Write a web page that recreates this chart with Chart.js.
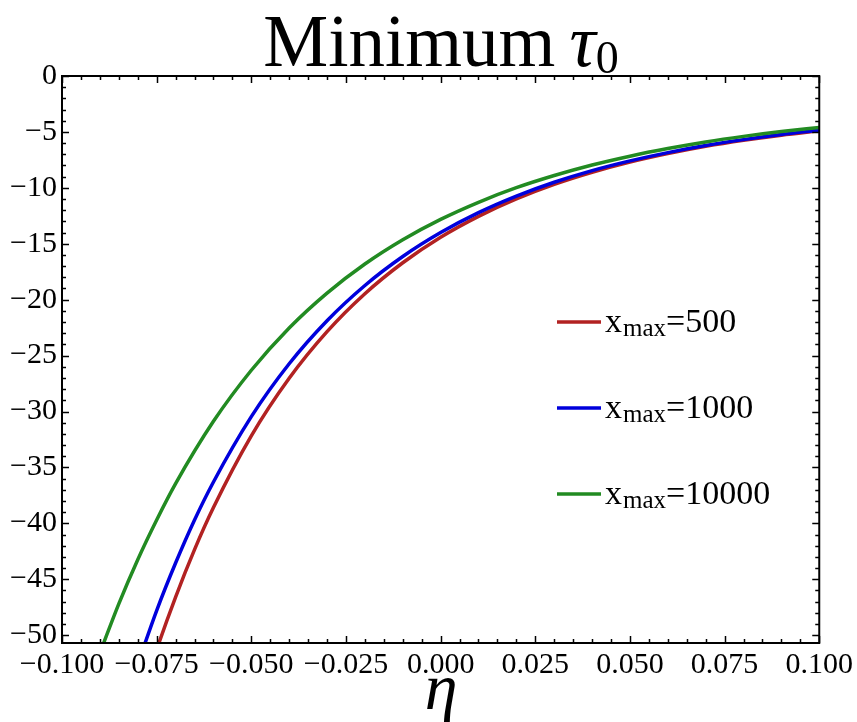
<!DOCTYPE html>
<html>
<head>
<meta charset="utf-8">
<script src="https://cdn.jsdelivr.net/npm/chart.js@4"></script>
<style>
  body { margin: 0; background: #fff; }
  #wrap { width: 857px; height: 722px; }
</style>
</head>
<body>
<div id="wrap"><canvas id="chart"></canvas></div>
<script>
// values
const labels = ['500', '1000', '10000'];
const colors = ['rgb(178,34,34)', 'rgb(0,0,220)', 'rgb(34,139,34)'];

const etaRed = [-0.08, -0.075, -0.07, -0.065, -0.06, -0.05, -0.04, -0.03, -0.02, -0.01, 0, 0.01, 0.02, 0.03, 0.04, 0.05, 0.06, 0.07, 0.08, 0.09, 0.1];
const tauRed = [-56.6, -51.3, -46.59, -42.35, -38.59, -32.18, -27.03, -22.86, -19.47, -16.70, -14.42, -12.55, -10.99, -9.69, -8.61, -7.70, -6.94, -6.29, -5.75, -5.29, -4.90];

const etaBlue = [-0.08, -0.075, -0.07, -0.065, -0.06, -0.05, -0.04, -0.03, -0.02, -0.01, 0, 0.01, 0.02, 0.03, 0.04, 0.05, 0.06, 0.07, 0.08, 0.09, 0.1];
const tauBlue = [-52.59, -47.8, -43.55, -39.7, -36.30, -30.46, -25.73, -21.88, -18.73, -16.14, -14.00, -12.22, -10.74, -9.50, -8.46, -7.59, -6.85, -6.22, -5.69, -5.23, -4.85];

const etaGreen = [-0.09, -0.085, -0.08, -0.075, -0.07, -0.06, -0.05, -0.04, -0.03, -0.02, -0.01, 0, 0.01, 0.02, 0.03, 0.04, 0.05, 0.06, 0.07, 0.08, 0.09, 0.1];
const tauGreen = [-51.6, -47.2, -43.25, -39.7, -36.45, -30.88, -26.31, -22.53, -19.41, -16.81, -14.64, -12.82, -11.29, -9.99, -8.90, -7.96, -7.17, -6.49, -5.90, -5.40, -4.97, -4.60];

const xTicks = [-0.1, 0.1, 0.025, 0.005];   // min, max, major step, minor step
const yTicks = [-50.7, 0, 5, 1];

const serif = '"Liberation Serif", "Times New Roman", serif';

function pts(xs, ys) {
    return xs.map((x, i) => ({ x: x, y: ys[i] }));
}

function minus(s) {
    return s.replace('-', '\u2212');
}

// frame, inward ticks, title, axis label and legend
const decor = {
    id: 'decor',
    afterDatasetsDraw(chart) {
        const ctx = chart.ctx;
        const a = chart.chartArea;
        const xs = chart.scales.x;
        const ys = chart.scales.y;
        ctx.save();
        ctx.strokeStyle = '#000';
        ctx.lineWidth = 1.5;

        // x ticks top and bottom
        const nx = Math.round((xTicks[1] - xTicks[0]) / xTicks[3]);
        for (let i = 0; i <= nx; i++) {
            const v = xTicks[0] + i * xTicks[3];
            const px = Math.round(xs.getPixelForValue(v)) + 0.5;
            const len = i % 5 === 0 ? 7 : 4;
            ctx.beginPath();
            ctx.moveTo(px, a.bottom); ctx.lineTo(px, a.bottom - len);
            ctx.moveTo(px, a.top); ctx.lineTo(px, a.top + len);
            ctx.stroke();
        }
        // y ticks left and right
        for (let v = 0; v >= yTicks[0]; v -= yTicks[3]) {
            const py = Math.round(ys.getPixelForValue(v)) + 0.5;
            const len = v % 5 === 0 ? 7 : 4;
            ctx.beginPath();
            ctx.moveTo(a.left, py); ctx.lineTo(a.left + len, py);
            ctx.moveTo(a.right, py); ctx.lineTo(a.right - len, py);
            ctx.stroke();
        }
        ctx.lineWidth = 2;
        ctx.strokeRect(a.left, a.top, a.right - a.left, a.bottom - a.top);

        ctx.fillStyle = '#000';
        ctx.textBaseline = 'alphabetic';

        // title: Minimum tau_0
        const t1 = 'Minimum ';
        ctx.font = '73px ' + serif;
        const w1 = ctx.measureText(t1).width;
        ctx.font = 'italic 73px ' + serif;
        const w2 = ctx.measureText('\u03C4').width;
        ctx.font = '46px ' + serif;
        const w3 = ctx.measureText('0').width;
        let tx = 443 - (w1 + w2 + w3) / 2;
        ctx.font = '73px ' + serif;
        ctx.fillText(t1, tx, 66);
        tx += w1 - 4;
        ctx.font = 'italic 73px ' + serif;
        ctx.fillText('\u03C4', tx, 66);
        tx += w2;
        ctx.font = '46px ' + serif;
        ctx.fillText('0', tx, 73);

        // x axis label
        ctx.font = 'italic 66px ' + serif;
        ctx.textAlign = 'center';
        ctx.fillText('\u03B7', 441, 709);
        ctx.textAlign = 'left';

        // legend
        chart.data.datasets.forEach((ds, i) => {
            const ly = 322 + i * 86;
            ctx.strokeStyle = ds.borderColor;
            ctx.lineWidth = 3.5;
            ctx.beginPath();
            ctx.moveTo(557, ly); ctx.lineTo(601, ly);
            ctx.stroke();
            let lx = 605;
            ctx.font = '34px ' + serif;
            ctx.fillText('x', lx, ly + 10);
            lx += ctx.measureText('x').width + 1;
            ctx.font = '25px ' + serif;
            ctx.fillText('max', lx, ly + 14);
            lx += ctx.measureText('max').width;
            ctx.font = '34px ' + serif;
            ctx.fillText('=' + ds.label, lx, ly + 10);
        });
        ctx.restore();
    }
};

new Chart(document.getElementById('chart'), {
    type: 'line',
    data: {
        datasets: [
            { label: labels[0], data: pts(etaRed, tauRed), borderColor: colors[0], order: 3 },
            { label: labels[1], data: pts(etaBlue, tauBlue), borderColor: colors[1], order: 2 },
            { label: labels[2], data: pts(etaGreen, tauGreen), borderColor: colors[2], order: 1 }
        ]
    },
    options: {
        responsive: true,
        maintainAspectRatio: false,
        animation: false,
        layout: { padding: { top: 76, right: 36, left: 0, bottom: 0 } },
        elements: {
            point: { radius: 0 },
            line: { borderWidth: 3.5, cubicInterpolationMode: 'monotone', fill: false }
        },
        plugins: {
            legend: { display: false },
            title: { display: false },
            tooltip: { enabled: false }
        },
        scales: {
            x: {
                type: 'linear',
                min: xTicks[0],
                max: xTicks[1],
                grid: { display: false, drawTicks: false },
                border: { display: false },
                ticks: {
                    stepSize: xTicks[2],
                    autoSkip: false,
                    maxRotation: 0,
                    padding: 4,
                    color: '#000',
                    font: { family: serif, size: 30 },
                    callback: (v) => minus(v.toFixed(3))
                },
                afterFit: (s) => { s.height = 79; }
            },
            y: {
                type: 'linear',
                min: yTicks[0],
                max: yTicks[1],
                grid: { display: false, drawTicks: false },
                border: { display: false },
                ticks: {
                    stepSize: yTicks[2],
                    includeBounds: false,
                    autoSkip: false,
                    padding: 5,
                    color: '#000',
                    font: { family: serif, size: 30 },
                    callback: (v) => {
                        const r = Math.round(v);
                        if (Math.abs(v - r) > 1e-6 || r % yTicks[2] !== 0) return null;
                        return minus(String(r));
                    }
                },
                afterFit: (s) => { s.width = 62; }
            }
        }
    },
    plugins: [decor]
});
</script>
</body>
</html>
